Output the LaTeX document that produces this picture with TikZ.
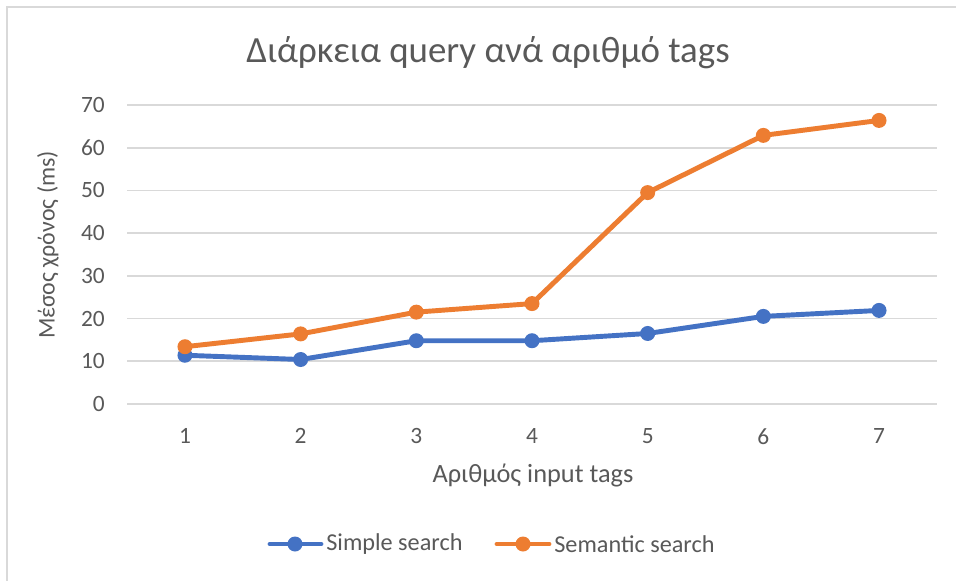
\documentclass[tikz,border=0pt]{standalone}
\usepackage{fontspec}
\setmainfont{Carlito}
\usepackage{tikz}
\definecolor{simplecol}{HTML}{4472C4}
\definecolor{semcol}{HTML}{ED7D31}
\definecolor{txtcol}{HTML}{595959}
\definecolor{gridcol}{HTML}{D9D9D9}
\tikzset{
  grd/.style={draw=gridcol,line width=0.9pt},
  simple/.style={draw=simplecol,line width=2.8pt,line join=round},
  sem/.style={draw=semcol,line width=2.8pt,line join=round},
  lbl/.style={text=txtcol,inner sep=0pt,font=\fontsize{13.3}{15}\selectfont},
}
\begin{document}
\begin{tikzpicture}[x=0.02cm,y=-0.02cm]
\useasboundingbox (0,0) rectangle (956,581);
\fill[white] (0,0) rectangle (956,581);
% chart frame (left and top edges)
\draw[gridcol,line width=1.2pt] (7,581) -- (7,7) -- (956,7);
% title
\node[text=txtcol,font=\fontsize{21}{24}\selectfont] (title) at (488,53) {Διάρκεια query ανά αριθμό tags};
% axis titles
\node[text=txtcol,rotate=90,font=\fontsize{13.6}{16}\selectfont] (ytitle) at (48,245) {Μέσος χρόνος (ms)};
\node[text=txtcol,font=\fontsize{15}{17}\selectfont] (xtitle) at (533,475) {Αριθμός input tags};

\begin{scope}[shift={(1.386cm,-8.08cm)},x=2.314cm,y=0.0854cm]
% gridlines and y ticks
\draw[grd] (0.5,0) -- (7.5,0);
\draw[grd] (0.5,10) -- (7.5,10);
\draw[grd] (0.5,20) -- (7.5,20);
\draw[grd] (0.5,30) -- (7.5,30);
\draw[grd] (0.5,40) -- (7.5,40);
\draw[grd] (0.5,50) -- (7.5,50);
\draw[grd] (0.5,60) -- (7.5,60);
\draw[grd] (0.5,70) -- (7.5,70);
\node[lbl,anchor=east] (y0) at (0.31,0) {0};
\node[lbl,anchor=east] (y10) at (0.31,10) {10};
\node[lbl,anchor=east] (y20) at (0.31,20) {20};
\node[lbl,anchor=east] (y30) at (0.31,30) {30};
\node[lbl,anchor=east] (y40) at (0.31,40) {40};
\node[lbl,anchor=east] (y50) at (0.31,50) {50};
\node[lbl,anchor=east] (y60) at (0.31,60) {60};
\node[lbl,anchor=east] (y70) at (0.31,70) {70};
% x ticks
\node[lbl] (x1) at (1,-7.6) {1};
\node[lbl] (x2) at (2,-7.6) {2};
\node[lbl] (x3) at (3,-7.6) {3};
\node[lbl] (x4) at (4,-7.6) {4};
\node[lbl] (x5) at (5,-7.6) {5};
\node[lbl] (x6) at (6,-7.6) {6};
\node[lbl] (x7) at (7,-7.6) {7};
% simple search
\draw[simple] (1,11.4)--(2,10.4)--(3,14.8)--(4,14.8)--(5,16.5)--(6,20.5)--(7,21.9);
\fill[simplecol] (1,11.4) circle[radius=0.15cm];
\fill[simplecol] (2,10.4) circle[radius=0.15cm];
\fill[simplecol] (3,14.8) circle[radius=0.15cm];
\fill[simplecol] (4,14.8) circle[radius=0.15cm];
\fill[simplecol] (5,16.5) circle[radius=0.15cm];
\fill[simplecol] (6,20.5) circle[radius=0.15cm];
\fill[simplecol] (7,21.9) circle[radius=0.15cm];
% semantic search
\draw[sem] (1,13.4)--(2,16.4)--(3,21.5)--(4,23.5)--(5,49.5)--(6,62.9)--(7,66.4);
\fill[semcol] (1,13.4) circle[radius=0.15cm];
\fill[semcol] (2,16.4) circle[radius=0.15cm];
\fill[semcol] (3,21.5) circle[radius=0.15cm];
\fill[semcol] (4,23.5) circle[radius=0.15cm];
\fill[semcol] (5,49.5) circle[radius=0.15cm];
\fill[semcol] (6,62.9) circle[radius=0.15cm];
\fill[semcol] (7,66.4) circle[radius=0.15cm];
\end{scope}

% legend
\draw[simple,line cap=round] (270,544) -- (321,544);
\fill[simplecol] (295,544) circle[radius=0.15cm];
\node[lbl,anchor=west,font=\fontsize{13.8}{16}\selectfont] (leg1) at (326,544) {Simple search};
\draw[sem,line cap=round] (497,544) -- (549,544);
\fill[semcol] (523,544) circle[radius=0.15cm];
\node[lbl,anchor=west,font=\fontsize{13.8}{16}\selectfont] (leg2) at (554,544) {Semantic search};
\end{tikzpicture}
\end{document}
